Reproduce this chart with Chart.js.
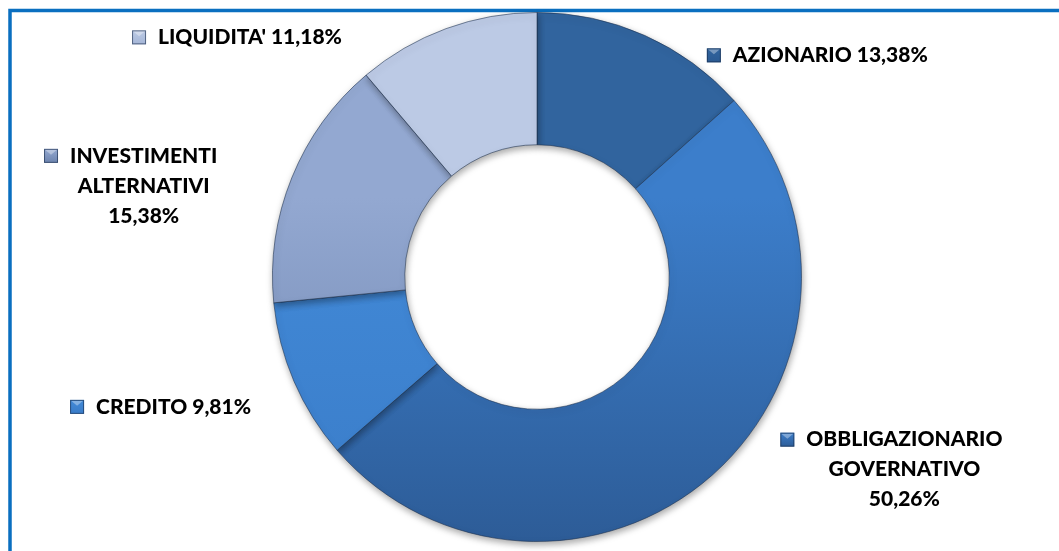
<!DOCTYPE html>
<html>
<head>
<meta charset="utf-8">
<script src="https://cdn.jsdelivr.net/npm/chart.js@4.4.1/dist/chart.umd.min.js"></script>
<style>
  html, body { margin: 0; padding: 0; background: #fff; overflow: hidden; }
  #wrap { position: relative; width: 1059px; height: 551px; }
</style>
</head>
<body>
<div id="wrap"><canvas id="chart" width="1059" height="551"></canvas></div>
<script>
// Asset allocation (percent)
var categories = ['AZIONARIO', 'OBBLIGAZIONARIO GOVERNATIVO', 'CREDITO', 'INVESTIMENTI ALTERNATIVI', "LIQUIDITA'"];
var weights = [13.38, 50.26, 9.81, 15.38, 11.18];

// top / bottom tone of each slice
var sliceTop = ['#31649e', '#3c7ecb', '#428ad8', '#93a8d1', '#bccae5'];
var sliceBottom = ['#2b5a92', '#2d5c97', '#3a7cc8', '#6c83ad', '#a5b6d7'];

// label anchors, in outer-radius units from the centre; wrap = one word per line
var labelSpots = [
  { x: 1.109, y: -0.838, wrap: false },
  { x: 1.389, y: 0.615, wrap: true },
  { x: -1.374, y: 0.491, wrap: false },
  { x: -1.487, y: -0.458, wrap: true },
  { x: -1.085, y: -0.906, wrap: false }
];

var LABEL_FONT = '900 21px Lato, "Open Sans", sans-serif';

function pct(v) {
  return v.toFixed(2).replace('.', ',') + '%';
}

function sliceFill(context) {
  var chart = context.chart;
  var area = chart.chartArea;
  var i = context.dataIndex;
  if (!area) return sliceTop[i];
  var cy = (area.top + area.bottom) / 2;
  var r = Math.min(area.right - area.left, area.bottom - area.top) / 2;
  var g = chart.ctx.createLinearGradient(0, cy - r, 0, cy + r);
  g.addColorStop(0, sliceTop[i]);
  g.addColorStop(0.35, sliceTop[i]);
  g.addColorStop(1, sliceBottom[i]);
  return g;
}

var frame = {
  id: 'frame',
  beforeDraw: function (chart) {
    var ctx = chart.ctx;
    ctx.save();
    ctx.strokeStyle = '#0a6fc0';
    ctx.lineWidth = 3.5;
    ctx.beginPath();
    ctx.moveTo(10, chart.height + 5);
    ctx.lineTo(10, 10.5);
    ctx.lineTo(chart.width + 5, 10.5);
    ctx.stroke();
    ctx.restore();
  }
};

var softShadow = {
  id: 'softShadow',
  beforeDatasetsDraw: function (chart) {
    var ctx = chart.ctx;
    ctx.save();
    ctx.shadowColor = 'rgba(0,0,0,0.35)';
    ctx.shadowBlur = 7;
    ctx.shadowOffsetX = 1;
    ctx.shadowOffsetY = 3;
  },
  afterDatasetsDraw: function (chart) {
    chart.ctx.restore();
  }
};

var sideLabels = {
  id: 'sideLabels',
  afterDraw: function (chart) {
    var ctx = chart.ctx;
    var arcs = chart.getDatasetMeta(0).data;
    if (!arcs.length) return;
    var cx = arcs[0].x, cy = arcs[0].y, R = arcs[0].outerRadius;
    ctx.save();
    ctx.font = LABEL_FONT;
    ctx.fillStyle = '#000';
    ctx.textAlign = 'center';
    ctx.textBaseline = 'middle';
    categories.forEach(function (name, i) {
      var spot = labelSpots[i];
      var lines = spot.wrap ? name.split(' ').concat([pct(weights[i])]) : [name + ' ' + pct(weights[i])];
      var bx = cx + spot.x * R;
      var by = cy + spot.y * R;
      lines.forEach(function (t, k) {
        ctx.fillText(t, bx, by + k * 30);
      });
      // legend key
      var w0 = ctx.measureText(lines[0]).width;
      var sx = bx - w0 / 2 - 12 - 14;
      var sy = by - 7;
      var kg = ctx.createLinearGradient(0, sy, 0, sy + 14);
      kg.addColorStop(0, sliceTop[i]);
      kg.addColorStop(1, sliceBottom[i]);
      ctx.fillStyle = kg;
      ctx.fillRect(sx, sy, 14, 14);
      ctx.fillStyle = 'rgba(255,255,255,0.35)';
      ctx.beginPath();
      ctx.moveTo(sx + 1, sy + 1);
      ctx.lineTo(sx + 13, sy + 1);
      ctx.lineTo(sx + 7, sy + 6);
      ctx.closePath();
      ctx.fill();
      ctx.strokeStyle = 'rgba(20,40,70,0.6)';
      ctx.lineWidth = 1;
      ctx.strokeRect(sx + 0.5, sy + 0.5, 13, 13);
      ctx.fillStyle = '#000';
    });
    ctx.restore();
  }
};

new Chart(document.getElementById('chart'), {
  type: 'doughnut',
  data: {
    labels: categories,
    datasets: [{
      data: weights,
      backgroundColor: sliceFill,
      borderColor: 'rgba(25,45,75,0.55)',
      borderWidth: 1
    }]
  },
  options: {
    responsive: false,
    animation: false,
    events: [],
    cutout: '50%',
    layout: { padding: { top: 12, bottom: 9, left: 272, right: 257 } },
    plugins: {
      legend: { display: false },
      tooltip: { enabled: false }
    }
  },
  plugins: [frame, softShadow, sideLabels]
});
</script>
</body>
</html>
